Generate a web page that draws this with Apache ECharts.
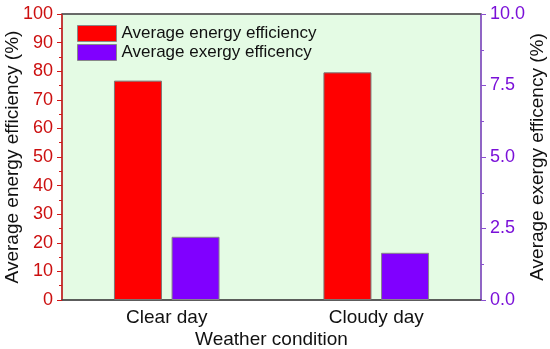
<!DOCTYPE html>
<html><head><meta charset="utf-8">
<script src="https://cdn.jsdelivr.net/npm/echarts@6/dist/echarts.min.js"></script>
<style>html,body{margin:0;padding:0;background:#fff}#c{width:550px;height:349px}</style>
</head><body><div id="c"></div>
<script>
const categories = ['Clear day', 'Cloudy day'];
const energyEff = [76.7, 79.6];
const exergyEff = [2.21, 1.65];
const leftTicks = [0, 100, 10];
const rightTicks = [0, 10, 2.5];

const FONT = 'Liberation Sans, Arial, sans-serif';
const RED = '#cc0f0f', PURPLE = '#7a10d8', PURPLE_LINE = '#8a4fd0';
const chart = echarts.init(document.getElementById('c'), null, {renderer: 'canvas'});
chart.setOption({
  animation: false,
  textStyle: {fontFamily: FONT},
  grid: {left: 62, right: 69, top: 14, bottom: 49, containLabel: false, outerBoundsMode: 'none',
         show: true, backgroundColor: '#e4fbe4', borderColor: '#555', borderWidth: 1},
  legend: {
    left: 72, top: 20, orient: 'vertical', itemWidth: 39, itemHeight: 16, itemGap: 2,
    textStyle: {fontSize: 17, color: '#111', fontFamily: FONT}, icon: 'rect',
    data: [{name: 'Average energy efficiency', itemStyle: {borderColor: '#888', borderWidth: 1}},
           {name: 'Average exergy efficency', itemStyle: {borderColor: '#888', borderWidth: 1}}]
  },
  xAxis: [
    {type: 'category', data: categories, position: 'bottom',
     axisLine: {lineStyle: {color: '#444', width: 1.5}},
     axisTick: {alignWithLabel: true, length: 4, lineStyle: {color: '#444'}},
     axisLabel: {fontSize: 19, color: '#111', margin: 8, fontFamily: FONT},
     name: 'Weather condition', nameLocation: 'middle', nameGap: 30, nameMoveOverlap: false,
     nameTextStyle: {fontSize: 19, color: '#111', fontFamily: FONT}},
    {type: 'category', data: categories, position: 'bottom',
     axisLine: {show: false}, axisLabel: {show: false},
     axisTick: {length: 4, lineStyle: {color: '#444'}}},
    {type: 'category', data: categories, position: 'top',
     axisLine: {lineStyle: {color: '#555', width: 1.5}}, axisLabel: {show: false},
     axisTick: {inside: true, alignWithLabel: true, length: 4, lineStyle: {color: '#444'}}},
    {type: 'category', data: categories, position: 'top',
     axisLine: {show: false}, axisLabel: {show: false},
     axisTick: {inside: true, length: 4, lineStyle: {color: '#444'}}}
  ],
  yAxis: [
    {type: 'value', min: leftTicks[0], max: leftTicks[1], interval: leftTicks[2], position: 'left',
     axisLine: {show: true, lineStyle: {color: '#d01818', width: 1.5}},
     axisTick: {show: true, length: 5, lineStyle: {color: '#d01818'}},
     minorTick: {show: true, splitNumber: 2, length: 3, lineStyle: {color: '#d01818'}},
     splitLine: {show: false},
     axisLabel: {fontSize: 18, color: RED, margin: 9, fontFamily: FONT},
     name: 'Average energy efficiency (%)', nameLocation: 'middle', nameGap: 40, nameMoveOverlap: false,
     nameTextStyle: {fontSize: 19, color: '#111', fontFamily: FONT}},
    {type: 'value', min: rightTicks[0], max: rightTicks[1], interval: rightTicks[2], position: 'right',
     axisLine: {show: true, lineStyle: {color: PURPLE_LINE, width: 1.5}},
     axisTick: {show: true, length: 5, lineStyle: {color: PURPLE_LINE}},
     minorTick: {show: true, splitNumber: 2, length: 3, lineStyle: {color: PURPLE_LINE}},
     splitLine: {show: false},
     axisLabel: {fontSize: 18, color: PURPLE, margin: 9, fontFamily: FONT, formatter: v => v.toFixed(1)},
     name: 'Average exergy efficency (%)', nameLocation: 'middle', nameGap: 47, nameMoveOverlap: false,
     nameTextStyle: {fontSize: 19, color: '#111', fontFamily: FONT}}
  ],
  series: [
    {name: 'Average energy efficiency', type: 'bar', xAxisIndex: 0, yAxisIndex: 0, data: energyEff,
     barWidth: 48, barGap: '20%', itemStyle: {color: '#ff0000', borderColor: '#777', borderWidth: 1}},
    {name: 'Average exergy efficency', type: 'bar', xAxisIndex: 0, yAxisIndex: 1, data: exergyEff,
     barWidth: 48, barGap: '20%', itemStyle: {color: '#8000ff', borderColor: '#888', borderWidth: 1}}
  ]
});
</script></body></html>
